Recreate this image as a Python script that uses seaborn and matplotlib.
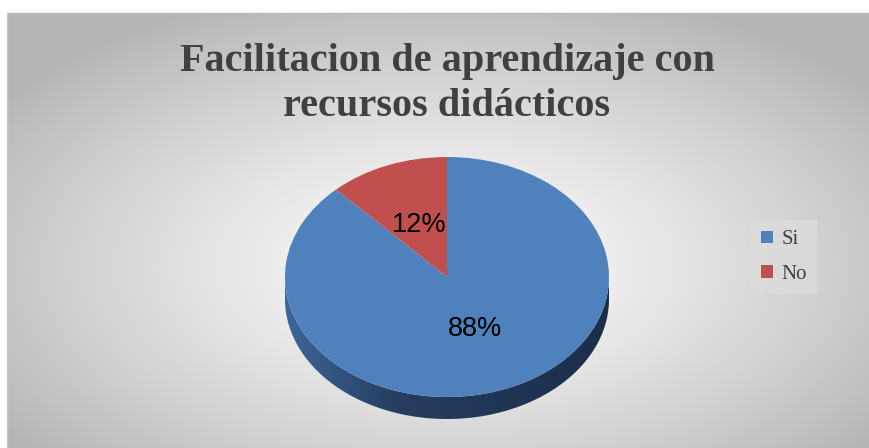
import numpy as np
import matplotlib
matplotlib.use("Agg")
import matplotlib.pyplot as plt
import seaborn as sns
from matplotlib.patches import Polygon, Rectangle

# ---- data ----
title = "Facilitacion de aprendizaje con\nrecursos didácticos"
categories = ["Si", "No"]
values = [88, 12]
colors = ["#4f81bd", "#c0504d"]

sns.set_theme(style="white")
plt.rcParams['font.family'] = ['Liberation Serif', 'DejaVu Sans']

W, H = 870, 448
fig = plt.figure(figsize=(W / 100, H / 100), dpi=100)
fig.patch.set_facecolor('#c4c4c4')

# ---- background (radial gradient chart area) ----
bg = fig.add_axes([0, 0, 1, 1])
x0, y0, x1, y1 = 7, 13, W + 10, H + 10
xs = np.arange(x0, x1) + 0.5
ys = np.arange(y0, y1) + 0.5
X, Y = np.meshgrid(xs, ys)
cx, cy = 445, 265
rx, ry = (872 - x0) / 2 * 1.25, (452 - y0) / 2 * 1.3
r = np.sqrt(((X - cx) / rx) ** 2 + ((Y - cy) / ry) ** 2)
r = np.clip(r, 0, 1)
g = 252 - (252 - 182) * r ** 1.3
img = np.dstack([g, g, g]) / 255.0
bg.imshow(img, extent=(x0, x1, y1, y0), interpolation='nearest', zorder=0, aspect='auto')
bg.add_patch(Rectangle((0, 0), W, y0, facecolor='white', edgecolor='none', zorder=1))
bg.add_patch(Rectangle((0, 0), x0, H, facecolor='white', edgecolor='none', zorder=1))
bg.plot([x0, W], [y0, y0], color='#b8b8b8', lw=1, zorder=2)
bg.plot([x0, x0], [y0, H], color='#c8c8c8', lw=1, zorder=2)
bg.set_xlim(0, W)
bg.set_ylim(H, 0)
bg.axis('off')

# ---- pie axes ----
pcx, pcy, prx, pry = 447, 277, 162, 120
bottom_px = 432
ax = fig.add_axes([(pcx - prx) / W, (H - bottom_px) / H, 2 * prx / W, (bottom_px - (pcy - pry)) / H])
ylo = 1 - (bottom_px - (pcy - pry)) / pry
depth = 22 / pry

# side of the 3D pie (gradient, clipped)
th = np.linspace(np.pi, 2 * np.pi, 200)
side = np.vstack([np.column_stack([np.cos(th), np.sin(th)]),
                  np.column_stack([np.cos(th[::-1]), np.sin(th[::-1]) - depth])])
poly = Polygon(side, closed=True, facecolor='none', edgecolor='none')
ax.add_patch(poly)
gx = np.linspace(0, 1, 300)
c_left = np.array([0x3e, 0x66, 0x98]) / 255
c_mid = np.array([0x25, 0x3d, 0x60]) / 255
c_right = np.array([0x1b, 0x2e, 0x4a]) / 255
grad = np.where(gx[:, None] < 0.35,
                c_left + (c_mid - c_left) * (gx[:, None] / 0.35),
                c_mid + (c_right - c_mid) * ((gx[:, None] - 0.35) / 0.65))
gimg = np.repeat(grad[None, :, :], 10, axis=0)
im = ax.imshow(gimg, extent=(-1, 1, -1 - depth, 0), aspect='auto', zorder=1)
im.set_clip_path(poly)

wedges, texts, autotexts = ax.pie(
    values, colors=colors, startangle=90, counterclock=False, radius=1,
    autopct='%1.0f%%', pctdistance=0.47,
    wedgeprops=dict(linewidth=0),
    textprops=dict(fontsize=19.5, color='black', family=['Liberation Sans', 'DejaVu Sans']))
for w in wedges:
    w.set_zorder(2)
for t in autotexts:
    t.set_zorder(3)
ax.set_aspect('auto')
ax.set_xlim(-1, 1)
ax.set_ylim(ylo, 1)
ax.axis('off')

# ---- title ----
fig.text(447 / W, 1 - 84 / H, title, ha='center', va='center', fontsize=29,
         fontweight='bold', color='#404040', linespacing=1.3)

# ---- legend ----
leg = fig.legend(wedges, categories, loc='upper left',
                 bbox_to_anchor=(751 / W, 1 - 220 / H), fontsize=15,
                 frameon=True, fancybox=False, handlelength=0.55, handleheight=0.55,
                 handletextpad=0.4, labelspacing=0.75, borderpad=0.5,
                 borderaxespad=0)
leg.get_frame().set_facecolor('#dcdcdc')
leg.get_frame().set_edgecolor('none')
leg.get_frame().set_alpha(0.8)
for t in leg.get_texts():
    t.set_color('#404040')

fig.savefig('out.png', dpi=100, facecolor=fig.get_facecolor())
